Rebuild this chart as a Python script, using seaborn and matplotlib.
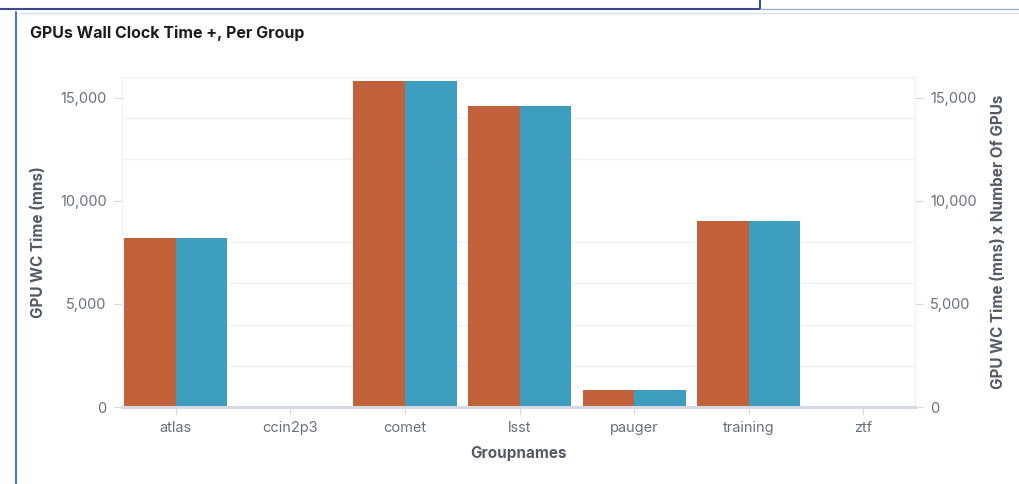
import pandas as pd
import matplotlib.pyplot as plt
import seaborn as sns
from matplotlib.lines import Line2D
from matplotlib.ticker import MultipleLocator, FuncFormatter

# --- data ---
groups = ["atlas", "ccin2p3", "comet", "lsst", "pauger", "training", "ztf"]
wc_time = [8200, 0, 15780, 14610, 830, 9030, 25]
wc_time_x_gpus = [8200, 0, 15780, 14610, 830, 9030, 25]
series_names = ["GPU WC Time (mns)", "GPU WC Time (mns) x Number Of GPUs"]

ORANGE = "#C0613A"
BLUE = "#3D9DBE"
GRID = "#EDF0F4"
AXIS = "#D3DAE6"
TICK_TXT = "#69707D"
LABEL_TXT = "#535966"

df = pd.DataFrame({
    "group": groups * 2,
    "value": wc_time + wc_time_x_gpus,
    "series": [series_names[0]] * len(groups) + [series_names[1]] * len(groups),
})

sns.set_theme(style="white")
plt.rcParams["font.family"] = ["Inter", "DejaVu Sans"]

fig = plt.figure(figsize=(10.19, 4.84), dpi=100)
ax = fig.add_axes([0.1197, 0.159, 0.778, 0.682])

sns.barplot(data=df, x="group", y="value", hue="series", order=groups,
            palette=[ORANGE, BLUE], width=0.9, gap=0, saturation=1,
            edgecolor="none", linewidth=0, legend=False, ax=ax)

ax.set_xlim(-0.47, 6.45)
ax.set_ylim(0, 16000)
ax.set_yticks([0, 5000, 10000, 15000])
ax.yaxis.set_minor_locator(MultipleLocator(2000))
ax.yaxis.set_major_formatter(FuncFormatter(lambda v, p: f"{int(v):,}"))
ax.grid(False)
ax.grid(which="minor", axis="y", color=GRID, linewidth=1)
ax.set_axisbelow(True)

for side in ["left", "right"]:
    ax.spines[side].set_color(GRID)
    ax.spines[side].set_linewidth(1)
ax.spines["top"].set_visible(False)
ax.spines["bottom"].set_color(AXIS)
ax.spines["bottom"].set_linewidth(2.2)
ax.spines["bottom"].set_zorder(5)

ax.tick_params(axis="y", which="major", left=True, length=6, width=0.8,
               color=AXIS, labelcolor=TICK_TXT, labelsize=10.5, pad=5)
ax.tick_params(axis="y", which="minor", left=False, right=False, length=0, width=0)
ax.tick_params(axis="x", bottom=True, length=6, width=0.8, color=AXIS,
               labelcolor=TICK_TXT, labelsize=10.5, pad=4)

ax.set_xlabel("Groupnames", fontsize=11, fontweight="bold", color=LABEL_TXT, labelpad=8)
ax.set_ylabel(series_names[0], fontsize=11, fontweight="bold", color=LABEL_TXT, labelpad=10)

# right axis, same scale
ax2 = ax.twinx()
ax2.set_ylim(ax.get_ylim())
ax2.set_yticks([0, 5000, 10000, 15000])
ax2.yaxis.set_major_formatter(FuncFormatter(lambda v, p: f"{int(v):,}"))
ax2.yaxis.set_minor_locator(MultipleLocator(2000))
for side in ["left", "right", "top", "bottom"]:
    ax2.spines[side].set_visible(False)
ax2.tick_params(axis="y", which="major", right=True, length=6, width=0.8, color=AXIS,
                labelcolor=TICK_TXT, labelsize=10.5, pad=5)
ax2.tick_params(axis="y", which="minor", left=False, right=False, length=0, width=0)
ax2.set_ylabel(series_names[1], fontsize=11, fontweight="bold", color=LABEL_TXT, labelpad=10)

# title and panel frame (dashboard screenshot look)
fig.text(0.0295, 0.932, "GPUs Wall Clock Time +, Per Group", fontsize=11.5,
         fontweight="bold", color="#1A1C21", ha="left", va="center")
fig.add_artist(Line2D([0.0, 0.746], [0.982, 0.982], color="#3B4A8C", linewidth=1.5))
fig.add_artist(Line2D([0.746, 0.746], [0.982, 1.0], color="#3B4A8C", linewidth=1.5))
fig.add_artist(Line2D([0.746, 1.0], [0.982, 0.982], color="#9DB3D8", linewidth=1))
fig.add_artist(Line2D([0.02, 1.0], [0.973, 0.973], color="#D8DCE3", linewidth=1))
fig.add_artist(Line2D([0.016, 0.016], [0.0, 0.975], color="#4A78CC", linewidth=1.5))

fig.savefig("out.png", dpi=100)
